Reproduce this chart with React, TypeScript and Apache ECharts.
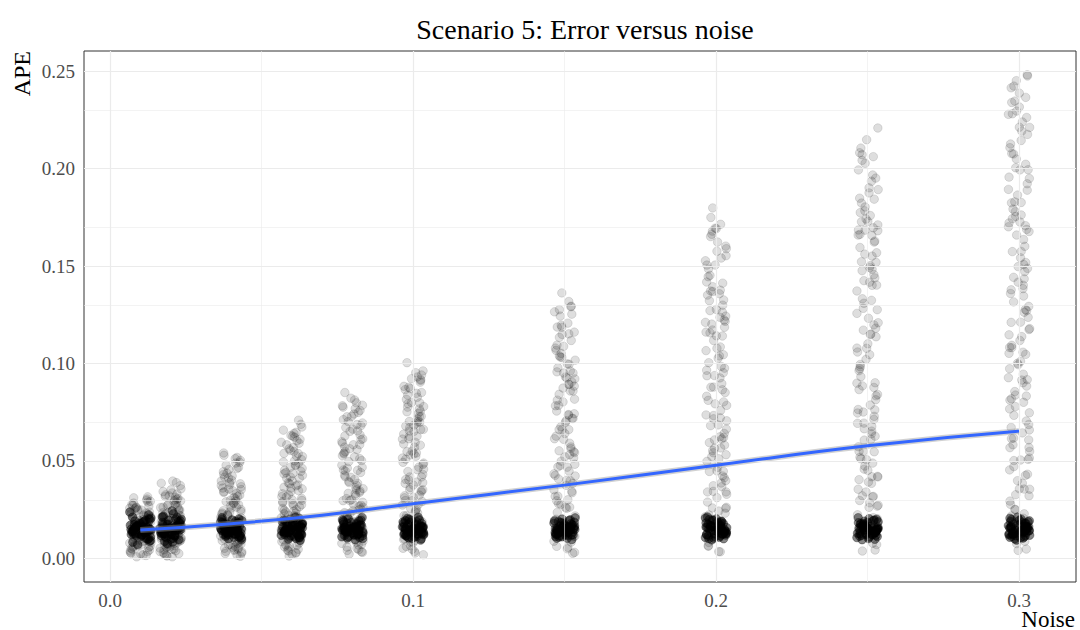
import React, { useEffect, useRef } from "react";
import * as echarts from "echarts";

const noiseLevels = [0.01, 0.02, 0.04, 0.06, 0.08, 0.1, 0.15, 0.2, 0.25, 0.3];

// dense core of each noise level (APE values around 0.015)
const apeCore: number[][] = [
  [0.0152,0.0098,0.0167,0.0121,0.0204,0.0145,0.0083,0.0161,0.0223,0.0109,0.0156,0.0142,0.0189,0.0133,0.0149,0.0071,0.0178,0.0163,0.0126,0.0238,0.0141,0.0196,0.0135,0.0170,0.0092,0.0151,0.0117,0.0212,0.0123,0.0160,0.0138,0.0174,0.0104,0.0186,0.0131,0.0157,0.0114,0.0199,0.0146,0.0128,0.0168,0.0088,0.0154,0.0181,0.0119,0.0143,0.0207,0.0136,0.0165,0.0101,0.0148,0.0192,0.0127,0.0159,0.0134],
  [0.0147,0.0105,0.0171,0.0128,0.0211,0.0139,0.0088,0.0165,0.0229,0.0114,0.0153,0.0136,0.0193,0.0131,0.0158,0.0076,0.0182,0.0168,0.0122,0.0245,0.0144,0.0201,0.0129,0.0174,0.0096,0.0148,0.0112,0.0217,0.0119,0.0163,0.0141,0.0177,0.0099,0.0189,0.0126,0.0155,0.0118,0.0203,0.0149,0.0133,0.0172,0.0084,0.0151,0.0185,0.0115,0.0146,0.0213,0.0132,0.0167,0.0103,0.0143,0.0196,0.0124,0.0161,0.0137],
  [0.0151,0.0112,0.0164,0.0127,0.0191,0.0143,0.0101,0.0158,0.0203,0.0119,0.0155,0.0139,0.0178,0.0132,0.0148,0.0095,0.0172,0.0161,0.0124,0.0209,0.0146,0.0186,0.0134,0.0169,0.0108,0.0153,0.0121,0.0197,0.0129,0.0160,0.0141,0.0175,0.0115,0.0183,0.0136,0.0157,0.0118,0.0194,0.0149,0.0130,0.0167,0.0104,0.0154,0.0180,0.0122,0.0144,0.0200,0.0137,0.0163,0.0110,0.0150,0.0188,0.0126,0.0159,0.0140],
  [0.0149,0.0109,0.0166,0.0125,0.0194,0.0141,0.0099,0.0160,0.0206,0.0116,0.0157,0.0137,0.0181,0.0130,0.0150,0.0093,0.0175,0.0163,0.0122,0.0212,0.0144,0.0188,0.0132,0.0171,0.0106,0.0155,0.0119,0.0199,0.0127,0.0162,0.0139,0.0177,0.0113,0.0185,0.0134,0.0159,0.0116,0.0196,0.0147,0.0128,0.0169,0.0102,0.0152,0.0182,0.0120,0.0142,0.0202,0.0135,0.0165,0.0108,0.0148,0.0190,0.0124,0.0157,0.0138],
  [0.0153,0.0111,0.0162,0.0128,0.0192,0.0145,0.0102,0.0157,0.0204,0.0118,0.0151,0.0140,0.0177,0.0133,0.0147,0.0096,0.0173,0.0166,0.0123,0.0210,0.0142,0.0185,0.0136,0.0168,0.0107,0.0156,0.0120,0.0196,0.0130,0.0159,0.0143,0.0174,0.0116,0.0182,0.0137,0.0155,0.0119,0.0193,0.0150,0.0131,0.0166,0.0105,0.0153,0.0179,0.0123,0.0145,0.0199,0.0138,0.0162,0.0111,0.0149,0.0187,0.0127,0.0158,0.0141],
  [0.0150,0.0110,0.0165,0.0126,0.0193,0.0142,0.0100,0.0159,0.0205,0.0117,0.0154,0.0138,0.0179,0.0131,0.0149,0.0094,0.0174,0.0162,0.0125,0.0211,0.0145,0.0187,0.0133,0.0170,0.0105,0.0152,0.0122,0.0198,0.0128,0.0161,0.0140,0.0176,0.0114,0.0184,0.0135,0.0156,0.0117,0.0195,0.0148,0.0129,0.0168,0.0103,0.0155,0.0181,0.0121,0.0143,0.0201,0.0136,0.0164,0.0109,0.0151,0.0189,0.0125,0.0160,0.0139],
  [0.0148,0.0113,0.0163,0.0127,0.0190,0.0144,0.0103,0.0156,0.0202,0.0120,0.0158,0.0136,0.0180,0.0134,0.0151,0.0097,0.0171,0.0164,0.0121,0.0208,0.0143,0.0184,0.0135,0.0167,0.0109,0.0154,0.0118,0.0195,0.0131,0.0158,0.0142,0.0173,0.0116,0.0181,0.0137,0.0157,0.0119,0.0192,0.0148,0.0131,0.0166,0.0104,0.0153,0.0178,0.0123,0.0145,0.0198,0.0138,0.0161,0.0111,0.0149,0.0186,0.0127,0.0158,0.0141],
  [0.0152,0.0108,0.0167,0.0124,0.0195,0.0140,0.0101,0.0161,0.0207,0.0115,0.0155,0.0139,0.0182,0.0129,0.0148,0.0095,0.0176,0.0160,0.0126,0.0213,0.0146,0.0189,0.0131,0.0172,0.0104,0.0157,0.0120,0.0200,0.0126,0.0163,0.0140,0.0178,0.0112,0.0186,0.0134,0.0158,0.0117,0.0197,0.0150,0.0128,0.0170,0.0102,0.0154,0.0183,0.0121,0.0143,0.0203,0.0135,0.0166,0.0107,0.0151,0.0191,0.0124,0.0161,0.0138],
  [0.0151,0.0112,0.0164,0.0129,0.0191,0.0143,0.0098,0.0158,0.0204,0.0119,0.0153,0.0141,0.0178,0.0132,0.0150,0.0096,0.0173,0.0165,0.0123,0.0209,0.0147,0.0185,0.0134,0.0169,0.0107,0.0154,0.0121,0.0197,0.0129,0.0160,0.0142,0.0175,0.0114,0.0183,0.0137,0.0156,0.0118,0.0194,0.0149,0.0130,0.0167,0.0103,0.0152,0.0180,0.0122,0.0144,0.0200,0.0136,0.0163,0.0110,0.0150,0.0188,0.0126,0.0159,0.0139],
  [0.0149,0.0110,0.0166,0.0126,0.0193,0.0141,0.0100,0.0160,0.0206,0.0117,0.0156,0.0137,0.0181,0.0130,0.0149,0.0094,0.0175,0.0162,0.0124,0.0212,0.0145,0.0188,0.0133,0.0171,0.0106,0.0155,0.0119,0.0199,0.0127,0.0162,0.0141,0.0176,0.0113,0.0184,0.0135,0.0157,0.0116,0.0196,0.0148,0.0129,0.0168,0.0104,0.0153,0.0181,0.0121,0.0144,0.0201,0.0137,0.0164,0.0108,0.0150,0.0189,0.0125,0.0158,0.0140],
];

// spread of each noise level
const apeSpread: number[][] = [
  [0.0031,0.0215,0.0087,0.0264,0.0142,0.0052,0.0298,0.0176,0.0109,0.0233,0.0018,0.0191,0.0065,0.0248,0.0127,0.0284,0.0094,0.0204,0.0043,0.0316,0.0159,0.0072,0.0226,0.0115,0.0271,0.0008,0.0183,0.0137,0.0256,0.0059,0.0199,0.0102,0.0241,0.0168,0.0024,0.0289,0.0121,0.0079,0.0218,0.0152,0.0305,0.0038,0.0187,0.0133,0.0260,
   0.0047,0.0229,0.0118,0.0277,0.0163,0.0015,0.0201,0.0091,0.0252,0.0139,0.0062,0.0311,0.0174,0.0107,0.0238,0.0035,0.0194,0.0126,0.0268,0.0081,0.0212,0.0149,0.0056,0.0293,0.0171,0.0098,0.0223,0.0134,0.0027,0.0246,0.0112,0.0185,0.0069,0.0258,0.0147],
  [0.0012,0.0245,0.0093,0.0318,0.0156,0.0048,0.0277,0.0189,0.0071,0.0352,0.0124,0.0228,0.0035,0.0299,0.0167,0.0082,0.0261,0.0139,0.0397,0.0057,0.0213,0.0106,0.0331,0.0176,0.0021,0.0288,0.0148,0.0066,0.0237,0.0119,0.0374,0.0044,0.0196,0.0271,0.0089,0.0308,0.0131,0.0008,0.0222,0.0162,0.0343,0.0075,0.0253,0.0101,0.0184,0.0029,0.0291,0.0144,0.0386,0.0062,0.0206,0.0115,0.0326,0.0053,0.0172,
   0.0039,0.0266,0.0128,0.0357,0.0181,0.0017,0.0234,0.0097,0.0302,0.0158,0.0069,0.0389,0.0203,0.0113,0.0276,0.0046,0.0219,0.0136,0.0321,0.0085,0.0248,0.0169,0.0058,0.0336,0.0192,0.0104,0.0263,0.0151,0.0025,0.0295,0.0121,0.0211,0.0077,0.0314,0.0142],
  [0.0018,0.0312,0.0087,0.0456,0.0164,0.0241,0.0052,0.0389,0.0128,0.0503,0.0276,0.0071,0.0347,0.0199,0.0033,0.0431,0.0226,0.0109,0.0368,0.0182,0.0529,0.0045,0.0295,0.0141,0.0412,0.0259,0.0093,0.0478,0.0210,0.0062,0.0333,0.0154,0.0397,0.0027,0.0284,0.0119,0.0445,0.0233,0.0078,0.0361,0.0172,0.0518,0.0041,0.0305,0.0136,0.0423,0.0251,0.0098,0.0379,0.0191,0.0011,0.0467,0.0268,0.0057,0.0325,0.0147,0.0541,0.0219,0.0084,0.0353,
   0.0036,0.0342,0.0153,0.0489,0.0227,0.0069,0.0402,0.0187,0.0291,0.0115,0.0512,0.0263,0.0048,0.0374,0.0206,0.0133,0.0437,0.0245,0.0091,0.0318,0.0169,0.0025,0.0461,0.0282,0.0122,0.0356,0.0198,0.0074,0.0417,0.0238,0.0144,0.0383,0.0055,0.0299,0.0178,0.0493,0.0106,0.0339,0.0221,0.0161],
  [0.0021,0.0412,0.0118,0.0596,0.0233,0.0067,0.0489,0.0317,0.0174,0.0641,0.0042,0.0365,0.0256,0.0538,0.0095,0.0441,0.0198,0.0622,0.0031,0.0384,0.0281,0.0507,0.0136,0.0467,0.0222,0.0688,0.0079,0.0343,0.0569,0.0161,0.0426,0.0247,0.0054,0.0611,0.0298,0.0187,0.0452,0.0108,0.0526,0.0332,0.0012,0.0398,0.0265,0.0583,0.0146,0.0478,0.0214,0.0709,0.0086,0.0357,0.0549,0.0169,0.0434,0.0291,0.0047,0.0658,0.0239,0.0126,0.0501,0.0372,0.0061,0.0627,0.0308,0.0193,0.0418,
   0.0038,0.0447,0.0177,0.0631,0.0272,0.0091,0.0523,0.0229,0.0388,0.0143,0.0674,0.0316,0.0059,0.0479,0.0251,0.0167,0.0562,0.0301,0.0112,0.0411,0.0208,0.0027,0.0603,0.0348,0.0152,0.0462,0.0243,0.0098,0.0539,0.0286,0.0181,0.0495,0.0069,0.0377,0.0219,0.0647,0.0131,0.0436,0.0275,0.0195,0.0554,0.0326,0.0105,0.0591,0.0361],
  [0.0034,0.0512,0.0146,0.0741,0.0273,0.0089,0.0628,0.0395,0.0207,0.0786,0.0058,0.0449,0.0321,0.0687,0.0121,0.0563,0.0244,0.0759,0.0041,0.0478,0.0352,0.0654,0.0172,0.0591,0.0288,0.0813,0.0097,0.0427,0.0712,0.0196,0.0536,0.0307,0.0069,0.0768,0.0374,0.0231,0.0583,0.0133,0.0671,0.0416,0.0022,0.0502,0.0339,0.0729,0.0184,0.0609,0.0263,0.0851,0.0108,0.0441,0.0695,0.0215,0.0548,0.0362,0.0051,0.0776,0.0297,0.0158,0.0634,0.0463,0.0077,0.0798,0.0385,0.0249,0.0527,0.0613,0.0405,0.0702,0.0571,0.0454,
   0.0045,0.0541,0.0202,0.0749,0.0331,0.0113,0.0652,0.0279,0.0467,0.0171,0.0822,0.0389,0.0072,0.0584,0.0301,0.0189,0.0681,0.0358,0.0128,0.0497,0.0254,0.0031,0.0727,0.0419,0.0165,0.0558,0.0296,0.0117,0.0663,0.0346,0.0218,0.0599,0.0083,0.0452,0.0268,0.0783,0.0153,0.0521,0.0334,0.0235],
  [0.0028,0.0614,0.0172,0.0883,0.0325,0.0101,0.0752,0.0468,0.0246,0.0931,0.0065,0.0537,0.0389,0.0816,0.0143,0.0671,0.0292,0.0904,0.0047,0.0571,0.0418,0.0779,0.0205,0.0703,0.0341,0.0962,0.0118,0.0509,0.0847,0.0233,0.0638,0.0364,0.0082,0.0918,0.0446,0.0274,0.0695,0.0159,0.0798,0.0493,0.0019,0.0596,0.0402,0.0866,0.0219,0.0727,0.0311,0.1004,0.0128,0.0524,0.0827,0.0257,0.0652,0.0431,0.0061,0.0922,0.0353,0.0188,0.0754,0.0551,0.0091,0.0941,0.0458,0.0297,0.0626,0.0729,0.0482,0.0838,0.0679,0.0541,0.0715,0.0587,0.0871,0.0376,0.0661,0.0794,0.0515,0.0627,0.0743,0.0699,
   0.0052,0.0662,0.0237,0.0878,0.0385,0.0127,0.0767,0.0321,0.0548,0.0196,0.0953,0.0455,0.0084,0.0684,0.0352,0.0219,0.0799,0.0418,0.0149,0.0581,0.0296,0.0036,0.0851,0.0489,0.0193,0.0654,0.0348,0.0137,0.0776,0.0405,0.0254,0.0702,0.0097,0.0531,0.0313,0.0913,0.0178,0.0612,0.0392,0.0276],
  [0.0031,0.0842,0.0236,0.1207,0.0448,0.0139,0.1031,0.0641,0.0337,0.1276,0.0088,0.0735,0.0532,0.1118,0.0196,0.0921,0.0401,0.1243,0.0062,0.0783,0.0572,0.1067,0.0281,0.0962,0.0468,0.1318,0.0161,0.0698,0.1161,0.0319,0.0874,0.0499,0.0112,0.1253,0.0611,0.0375,0.0951,0.0218,0.1094,0.0676,0.0026,0.0817,0.0552,0.1187,0.0301,0.0996,0.0426,0.1362,0.0175,0.0718,0.1134,0.0352,0.0893,0.0591,0.0084,0.1265,0.0483,0.0257,0.1033,0.0756,0.0125,0.1291,0.0627,0.0408,0.0859,0.0998,0.0661,0.1149,0.0931,0.0742,0.0978,0.0803,0.1196,0.0516,0.0905,0.1088,0.0706,0.0859,0.1017,0.0957,0.0277,0.0385,0.0543,0.0661,0.0812,
   0.0057,0.0893,0.0318,0.1186,0.0521,0.0171,0.1039,0.0434,0.0738,0.0263,0.1294,0.0614,0.0114,0.0926,0.0477,0.0296,0.1079,0.0563,0.0201,0.0785,0.0399,0.0049,0.1152,0.0661,0.0261,0.0884,0.0469,0.0186,0.1052,0.0548,0.0344,0.0951,0.0131,0.0718,0.0423],
  [0.0034,0.1118,0.0312,0.1602,0.0594,0.0183,0.1369,0.0851,0.0447,0.1694,0.0117,0.0976,0.0706,0.1485,0.0259,0.1223,0.0532,0.1651,0.0082,0.1039,0.0759,0.1418,0.0373,0.1277,0.0621,0.1749,0.0214,0.0926,0.1541,0.0423,0.1161,0.0663,0.0149,0.1663,0.0811,0.0498,0.1263,0.0289,0.1452,0.0897,0.0035,0.1085,0.0733,0.1576,0.0399,0.1322,0.0565,0.1798,0.0232,0.0953,0.1505,0.0467,0.1186,0.0785,0.0111,0.1679,0.0641,0.0341,0.1372,0.1004,0.0166,0.1714,0.0832,0.0542,0.1142,0.1326,0.0878,0.1527,0.1237,0.0985,0.1299,0.1066,0.1589,0.0685,0.1202,0.1445,0.0937,0.1141,0.1351,0.1271,0.0368,0.0511,0.0721,0.0879,0.1078,0.0257,0.0446,0.0608,0.1394,0.1216,0.1045,0.0793,0.1623,0.0581,0.0329,
   0.0063,0.1172,0.0414,0.1553,0.0681,0.0223,0.1358,0.0567,0.0965,0.0344,0.1692,0.0803,0.0149,0.1211,0.0624,0.0387,0.1412,0.0736,0.0262,0.1027,0.0522,0.0064,0.1505,0.0865,0.0341,0.1157,0.0613,0.0243,0.1376,0.0716,0.0449,0.1243,0.0171,0.0938,0.0553],
  [0.0038,0.1372,0.0385,0.1967,0.0729,0.0224,0.1681,0.1045,0.0549,0.2081,0.0143,0.1198,0.0866,0.1823,0.0318,0.1502,0.0653,0.2027,0.0101,0.1276,0.0932,0.1741,0.0458,0.1568,0.0762,0.2148,0.0262,0.1137,0.1892,0.0519,0.1425,0.0814,0.0183,0.2042,0.0995,0.0611,0.1551,0.0355,0.1783,0.1101,0.0043,0.1332,0.0899,0.1935,0.0489,0.1623,0.0693,0.2208,0.0285,0.1171,0.1848,0.0573,0.1456,0.0963,0.0136,0.2061,0.0787,0.0419,0.1684,0.1232,0.0204,0.2105,0.1021,0.0665,0.1402,0.1628,0.1078,0.1875,0.1519,0.1209,0.1595,0.1309,0.1951,0.0841,0.1476,0.1774,0.1151,0.1401,0.1659,0.1561,0.0452,0.0627,0.0885,0.1079,0.1324,0.0316,0.0547,0.0746,0.1711,0.1493,0.1283,0.0973,0.1993,0.0713,0.0404,0.1727,0.1696,0.1759,0.1657,0.1803,0.0392,0.0268,0.0511,0.0341,0.0607,
   0.0071,0.1439,0.0506,0.1901,0.0834,0.0273,0.1662,0.0694,0.1181,0.0421,0.2071,0.0983,0.0182,0.1483,0.0764,0.0474,0.1729,0.0901,0.0321,0.1257,0.0639,0.0078,0.1843,0.1059,0.0418,0.1417,0.0751,0.0297,0.1685,0.0877,0.0549,0.1522,0.0209,0.1148,0.0677],
  [0.0041,0.1542,0.0432,0.2211,0.0819,0.0251,0.1889,0.1174,0.0617,0.2339,0.0161,0.1346,0.0973,0.2049,0.0357,0.1688,0.0734,0.2278,0.0113,0.1434,0.1047,0.1956,0.0515,0.1762,0.0856,0.2414,0.0294,0.1277,0.2126,0.0583,0.1601,0.0915,0.0206,0.2295,0.1118,0.0687,0.1743,0.0399,0.2004,0.1237,0.0048,0.1497,0.1011,0.2175,0.0549,0.1824,0.0779,0.2481,0.0321,0.1316,0.2077,0.0644,0.1636,0.1082,0.0153,0.2316,0.0884,0.0471,0.1893,0.1384,0.0229,0.2365,0.1147,0.0747,0.1575,0.1829,0.1211,0.2107,0.1707,0.1359,0.1792,0.1471,0.2192,0.0945,0.1659,0.1993,0.1293,0.1574,0.1864,0.1754,0.0508,0.0705,0.0994,0.1212,0.1488,0.0355,0.0615,0.0838,0.1922,0.1677,0.1442,0.1093,0.2239,0.0801,0.0454,0.2451,0.2387,0.2262,0.2423,0.0927,0.1058,0.1263,0.1518,0.1721,0.1949,0.2144,0.2346,0.0672,0.0568,0.0426,0.0277,0.0187,0.0088,0.1138,0.1401,
   0.0076,0.1726,0.0608,0.2281,0.1001,0.0327,0.1994,0.0833,0.1417,0.0505,0.2475,0.1179,0.0218,0.1779,0.0917,0.0569,0.2075,0.1081,0.0385,0.1508,0.0767,0.0094,0.2212,0.1271,0.0502,0.1701,0.0901,0.0356,0.2022,0.1052,0.0659,0.1826,0.0251,0.1378,0.0812],
];

// horizontal jitter offsets (noise units)
const jitterOffsets = [-0.0033,0.0021,-0.0008,0.0030,-0.0025,0.0011,-0.0017,0.0034,-0.0028,0.0003,0.0024,-0.0012,0.0015,-0.0035,0.0007,-0.0020,0.0032,-0.0003,0.0027,-0.0031,0.0013,-0.0014,0.0019,-0.0022,0.0005,0.0033,-0.0009,0.0017,-0.0026,0.0009,-0.0005,0.0028,-0.0018,0.0001,0.0022,-0.0030,0.0014,-0.0011,0.0035,-0.0024,0.0025];

// loess smooth
const smoothNoise = [0.01, 0.04, 0.07, 0.1, 0.15, 0.2, 0.25, 0.3];
const smoothAPE = [0.0146, 0.0178, 0.0222, 0.0281, 0.0376, 0.0478, 0.0578, 0.0653];

const xTicks = [0, 0.1, 0.2, 0.3];
const xMinor = [0.05, 0.15, 0.25];
const yTicks = [0, 0.05, 0.1, 0.15, 0.2, 0.25];
const yMinor = [0.025, 0.075, 0.125, 0.175, 0.225];

const FONT = "Liberation Serif";

function buildPoints(groups: number[][], shift: number) {
  const n = jitterOffsets.length;
  const out: number[][] = [];
  groups.forEach((vals, g) => {
    vals.forEach((y, i) => {
      out.push([noiseLevels[g] + jitterOffsets[(i * 7 + g * 11 + shift) % n], y]);
    });
  });
  return out;
}

export default function App() {
  const ref = useRef<HTMLDivElement>(null);
  useEffect(() => {
    if (!ref.current) return;
    const chart = echarts.init(ref.current, null, { renderer: "svg" });
    const gridLine = (axis: "xAxis" | "yAxis", v: number, w: number) => ({
      [axis]: v,
      lineStyle: { color: "#ebebeb", width: w, type: "solid" },
    });
    chart.setOption({
      animation: false,
      backgroundColor: "#ffffff",
      title: {
        text: "Scenario 5: Error versus noise",
        left: 580,
        top: 10,
        textAlign: "center",
        textStyle: { fontFamily: FONT, fontSize: 28, fontWeight: "normal", color: "#000" },
      },
      grid: {
        left: 84,
        right: 4,
        top: 51,
        bottom: 48,
        show: true,
        borderColor: "#333333",
        borderWidth: 1,
        backgroundColor: "transparent",
      },
      xAxis: {
        type: "value",
        min: -0.0086,
        max: 0.3188,
        axisLine: { show: false },
        splitLine: { show: false },
        axisTick: { show: true, length: 5, customValues: xTicks, lineStyle: { color: "#333333" } },
        axisLabel: {
          customValues: xTicks,
          formatter: (v: number) => v.toFixed(1),
          fontFamily: FONT,
          fontSize: 19,
          color: "#4d4d4d",
          margin: 9,
        },
      },
      yAxis: {
        type: "value",
        min: -0.0121,
        max: 0.2603,
        axisLine: { show: false },
        splitLine: { show: false },
        axisTick: { show: true, length: 5, customValues: yTicks, lineStyle: { color: "#333333" } },
        axisLabel: {
          customValues: yTicks,
          formatter: (v: number) => v.toFixed(2),
          fontFamily: FONT,
          fontSize: 19,
          color: "#4d4d4d",
          margin: 9,
        },
      },
      graphic: [
        {
          type: "text",
          x: 22,
          y: 51,
          rotation: Math.PI / 2,
          style: { text: "APE", fontFamily: FONT, fontSize: 24, fill: "#000", align: "right", verticalAlign: "middle" },
        },
        {
          type: "text",
          x: 1075,
          y: 619,
          style: { text: "Noise", fontFamily: FONT, fontSize: 23, fill: "#000", align: "right", verticalAlign: "middle" },
        },
      ],
      series: [
        {
          type: "line",
          data: [],
          z: 0,
          silent: true,
          markLine: {
            silent: true,
            symbol: "none",
            label: { show: false },
            animation: false,
            data: [
              ...xMinor.map((v) => gridLine("xAxis", v, 0.6)),
              ...yMinor.map((v) => gridLine("yAxis", v, 0.6)),
              ...xTicks.map((v) => gridLine("xAxis", v, 1.2)),
              ...yTicks.map((v) => gridLine("yAxis", v, 1.2)),
            ],
          },
        },
        {
          type: "scatter",
          data: buildPoints(apeSpread, 0),
          symbolSize: 8.5,
          silent: true,
          itemStyle: { color: "rgba(0,0,0,0.16)", borderColor: "rgba(0,0,0,0.14)", borderWidth: 1 },
          z: 2,
        },
        {
          type: "scatter",
          data: buildPoints(apeCore, 3),
          symbolSize: 8.5,
          silent: true,
          itemStyle: { color: "rgba(0,0,0,0.6)", borderColor: "rgba(0,0,0,0.4)", borderWidth: 1 },
          z: 3,
        },
        {
          type: "line",
          data: smoothNoise.map((x, i) => [x, smoothAPE[i]]),
          smooth: 0.5,
          showSymbol: false,
          silent: true,
          lineStyle: { color: "rgba(153,153,153,0.45)", width: 6 },
          z: 4,
        },
        {
          type: "line",
          data: smoothNoise.map((x, i) => [x, smoothAPE[i]]),
          smooth: 0.5,
          showSymbol: false,
          silent: true,
          lineStyle: { color: "#3366FF", width: 3 },
          z: 5,
        },
      ],
    });
    return () => chart.dispose();
  }, []);
  return (
    <div
      ref={ref}
      style={{ position: "fixed", left: 0, top: 0, width: 1080, height: 630, background: "#fff" }}
    />
  );
}
